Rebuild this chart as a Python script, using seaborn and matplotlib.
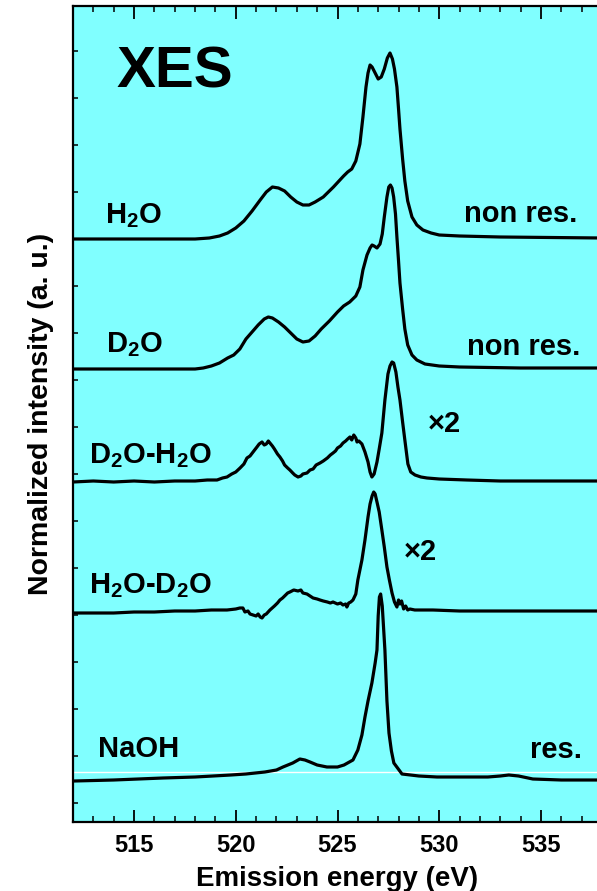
import numpy as np
import pandas as pd
import matplotlib
matplotlib.use("Agg")
import matplotlib.pyplot as plt
from matplotlib.ticker import MultipleLocator
import seaborn as sns

# ---------------- data ----------------
# heights are in arbitrary units above each curve's own baseline
h2o_e = [512.0, 515.0, 518.0, 518.7, 519.2, 519.6, 520.0, 520.4, 520.8, 521.2, 521.5, 521.8,
         522.1, 522.4, 522.7, 523.0, 523.3, 523.6, 523.9, 524.3, 524.8, 525.3, 525.5, 525.7,
         525.9, 526.1, 526.25, 526.4, 526.5, 526.6, 526.7, 526.85, 527.0, 527.15, 527.3, 527.45,
         527.58, 527.7, 527.8, 527.92, 528.0, 528.07, 528.2, 528.31, 528.45, 528.66, 528.9,
         529.2, 529.6, 530.0, 531.0, 533.0, 538.0]
h2o_h = [0, 0, 0, 1, 3, 6, 11, 18, 28, 39, 47, 52,
         51, 48, 42, 37, 34, 34, 37, 42, 52, 63, 67, 70,
         78, 95, 122, 152, 166, 174, 172, 166, 160, 162, 170, 181,
         186, 180, 170, 152, 130, 110, 80, 58, 38, 22, 14,
         9, 6, 4, 3, 2, 1]

d2o_e = [512.0, 515.0, 518.0, 518.4, 518.8, 519.2, 519.6, 519.9, 520.2, 520.5, 520.8, 521.1,
         521.4, 521.6, 521.8, 522.1, 522.4, 522.7, 523.0, 523.3, 523.6, 523.9, 524.2, 524.6,
         525.0, 525.3, 525.6, 525.9, 526.1, 526.25, 526.45, 526.6, 526.7, 526.8, 526.94, 527.09,
         527.2, 527.3, 527.43, 527.52, 527.6, 527.68, 527.76, 527.85, 527.92, 528.0, 528.07,
         528.2, 528.31, 528.45, 528.66, 528.9, 529.3, 530.0, 531.0, 534.0, 538.0]
d2o_h = [0, 0, 0, 1, 3, 6, 11, 14, 20, 30, 37, 44,
         50, 52, 51, 47, 42, 36, 30, 27, 28, 33, 40, 48,
         57, 63, 67, 73, 82, 99, 114, 121, 124, 123, 121, 125,
         135, 152, 172, 182, 184, 181, 172, 155, 132, 108, 86,
         60, 40, 24, 14, 9, 5, 3, 2, 1, 1]

dh_e = [512.0, 513.0, 514.0, 515.0, 516.0, 517.0, 518.0, 518.6, 519.08, 519.35, 519.57, 519.8,
        520.0, 520.21, 520.4, 520.55, 520.7, 520.85, 521.04, 521.15, 521.29, 521.4, 521.5, 521.6,
        521.68, 521.8, 521.9, 522.05, 522.17, 522.3, 522.4, 522.55, 522.66, 522.8, 522.9, 523.06,
        523.2, 523.3, 523.5, 523.65, 523.8, 523.95, 524.14, 524.3, 524.5, 524.65, 524.78, 524.9,
        525.0, 525.15, 525.27, 525.4, 525.5, 525.61, 525.7, 525.8, 525.9, 525.96, 526.05, 526.2,
        526.35, 526.5, 526.6, 526.69, 526.8, 526.94, 527.05, 527.18, 527.33, 527.48, 527.58,
        527.68, 527.76, 527.87, 527.97, 528.07, 528.2, 528.31, 528.46, 528.6, 528.81, 529.1,
        529.4, 530.0, 531.36, 533.0, 535.0, 538.0]
dh_h = [0, 1, 0, 1, 0, 1, 1, 2, 2, 4, 5, 8,
        10, 14, 18, 24, 26, 30, 35, 38, 40, 37, 38, 41,
        39, 36, 33, 28, 25, 21, 17, 14, 12, 9, 7, 5,
        6, 8, 9, 12, 13, 17, 19, 21, 24, 27, 29, 31,
        34, 36, 39, 41, 43, 45, 42, 47, 44, 40, 41, 38,
        30, 20, 10, 5, 8, 20, 33, 49, 82, 108, 116,
        120, 119, 110, 95, 82, 60, 42, 18, 10, 7, 5,
        4, 3, 2, 1, 1, 1]

hd_e = [512.0, 513.0, 514.0, 515.0, 516.0, 517.0, 518.0, 518.8, 519.57, 520.0, 520.2, 520.35,
        520.45, 520.6, 520.7, 520.85, 521.0, 521.1, 521.2, 521.29, 521.4, 521.5, 521.68, 521.9,
        522.05, 522.17, 522.3, 522.4, 522.55, 522.66, 522.85, 523.06, 523.2, 523.3, 523.5, 523.65,
        523.8, 524.0, 524.14, 524.3, 524.5, 524.65, 524.78, 525.0, 525.15, 525.27, 525.4, 525.46,
        525.55, 525.65, 525.76, 525.9, 526.0, 526.1, 526.2, 526.35, 526.5, 526.6, 526.7, 526.78,
        526.85, 526.94, 527.05, 527.18, 527.3, 527.43, 527.55, 527.68, 527.8, 527.92, 528.0,
        528.07, 528.15, 528.25, 528.35, 528.45, 528.56, 528.8, 529.2, 529.69, 531.0, 532.98,
        535.0, 538.0]
hd_h = [-1, -1, -1, 0, 0, 1, 1, 2, 2, 3, 4, 4,
        0, 1, -2, -3, -4, -2, -5, -6, -3, -2, 2, 6,
        9, 12, 14, 16, 19, 20, 22, 21, 22, 19, 18, 16,
        14, 13, 12, 11, 10, 9, 10, 8, 9, 7, 8, 5,
        9, 10, 12, 18, 32, 42, 52, 72, 95, 108, 116, 120,
        118, 110, 100, 82, 65, 45, 32, 19, 10, 5, 12,
        8, 11, 3, 6, 2, 3, 2, 2, 2, 1, 1,
        1, 1]

naoh_e = [512.05, 514.0, 516.42, 518.0, 519.76, 520.5, 521.43, 522.0, 522.32, 522.8, 523.15,
          523.4, 523.65, 524.0, 524.48, 525.0, 525.32, 525.76, 526.0, 526.2, 526.35, 526.5,
          526.69, 526.85, 526.94, 527.0, 527.06, 527.12, 527.2, 527.33, 527.43, 527.53, 527.65,
          527.77, 528.17, 529.0, 529.89, 531.0, 532.39, 533.0, 533.42, 533.9, 534.6, 536.0, 538.0]
naoh_h = [0, 1, 3, 4, 6, 7, 9, 11, 14, 18, 22,
          21, 19, 16, 14, 14, 16, 21, 31, 46, 64, 80,
          98, 118, 131, 165, 184, 187, 175, 131, 80, 48, 30,
          18, 7, 5, 4, 4, 4, 5, 6, 5, 2, 1, 1]

names = ["H2O", "D2O", "D2O-H2O", "H2O-D2O", "NaOH"]
offsets = [583, 453, 340, 210, 41]          # vertical stacking offset of each spectrum
energies = [h2o_e, d2o_e, dh_e, hd_e, naoh_e]
heights = [h2o_h, d2o_h, dh_h, hd_h, naoh_h]

frames = []
for n, off, e, h in zip(names, offsets, energies, heights):
    frames.append(pd.DataFrame({"energy": e, "intensity": np.array(h) + off, "sample": n}))
df = pd.concat(frames, ignore_index=True)

# ---------------- style ----------------
sns.set_style("ticks")
plt.rcParams["font.family"] = ["Liberation Sans", "DejaVu Sans"]
plt.rcParams["font.weight"] = "bold"
plt.rcParams["text.color"] = "black"
plt.rcParams["axes.labelcolor"] = "black"
plt.rcParams["xtick.color"] = "black"
plt.rcParams["ytick.color"] = "black"
plt.rcParams["mathtext.fontset"] = "custom"
plt.rcParams["mathtext.rm"] = "Liberation Sans:bold"
plt.rcParams["mathtext.bf"] = "Liberation Sans:bold"
plt.rcParams["mathtext.default"] = "bf"

W, H = 597, 891
fig = plt.figure(figsize=(W / 100, H / 100), dpi=100)
ax = fig.add_axes([73 / W, 1 - 822 / H, (602 - 73) / W, (822 - 5.5) / H])
ax.set_facecolor("#80FFFF")

ax.axhline(50, color="white", lw=1.0, zorder=1)

sns.lineplot(data=df, x="energy", y="intensity", units="sample", estimator=None,
             sort=False, color="black", lw=2.3, ax=ax, legend=False, zorder=3)

ax.set_xlim(512, 538)
ax.set_ylim(0, 816.5)
ax.xaxis.set_major_locator(MultipleLocator(5))
ax.xaxis.set_minor_locator(MultipleLocator(1))
ax.set_yticks(np.arange(19, 800, 47))
ax.set_yticklabels([])
ax.tick_params(axis="x", which="major", direction="in", length=9, width=1.3,
               top=True, bottom=True, labelsize=17, pad=9, colors="black")
ax.tick_params(axis="x", which="minor", direction="in", length=4.5, width=1.1,
               top=True, bottom=True, colors="black")
ax.tick_params(axis="y", which="major", direction="in", length=3.5, width=1.1,
               left=True, right=False, colors="black")
for lab in ax.get_xticklabels():
    lab.set_fontweight("bold")
for s in ax.spines.values():
    s.set_linewidth(1.6)
    s.set_color("black")

ax.set_xlabel("Emission energy (eV)", fontsize=20, fontweight="bold", labelpad=6, color="black")
ax.set_ylabel("Normalized intensity (a. u.)", fontsize=20.5, fontweight="bold", labelpad=10,
              color="black")


def fpos(x, y):
    return x / W, 1 - y / H


fs = 21
fig.text(*fpos(175, 87), "XES", fontsize=42, fontweight="bold", ha="center", va="baseline",
         color="black")
fig.text(*fpos(105, 223), r"$H_2O$", fontsize=fs, ha="left", va="baseline", color="black")
fig.text(*fpos(577, 222), "non res.", fontsize=fs, fontweight="bold", ha="right",
         va="baseline", color="black")
fig.text(*fpos(106, 352), r"$D_2O$", fontsize=fs, ha="left", va="baseline", color="black")
fig.text(*fpos(580, 355), "non res.", fontsize=fs, fontweight="bold", ha="right",
         va="baseline", color="black")
fig.text(*fpos(89, 463), r"$D_2O$-$H_2O$", fontsize=fs, ha="left", va="baseline", color="black")
fig.text(*fpos(428, 432), "×2", fontsize=fs, fontweight="bold", ha="left", va="baseline",
         color="black")
fig.text(*fpos(89, 593), r"$H_2O$-$D_2O$", fontsize=fs, ha="left", va="baseline", color="black")
fig.text(*fpos(404, 560), "×2", fontsize=fs, fontweight="bold", ha="left", va="baseline",
         color="black")
fig.text(*fpos(98, 757), "NaOH", fontsize=fs, fontweight="bold", ha="left", va="baseline",
         color="black")
fig.text(*fpos(582, 758), "res.", fontsize=fs, fontweight="bold", ha="right", va="baseline",
         color="black")

fig.savefig("out.png", dpi=100, facecolor="white")
